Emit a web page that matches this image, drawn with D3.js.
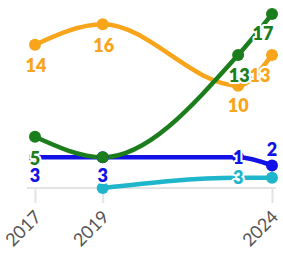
<!DOCTYPE html>
<html>
<head>
<meta charset="utf-8">
<script src="https://cdn.jsdelivr.net/npm/d3@7"></script>
<style>
  html, body { margin: 0; padding: 0; background: #fff; }
  svg { display: block; }
</style>
</head>
<body>
<svg id="chart" width="283" height="255"></svg>
<script>
// ---- data ----
const years = [2017, 2019, 2023, 2024];
const tickYears = [2017, 2019, 2024];
const cyanValues = [null, 0, 1, 1];
const blueValues = [3, 3, 3, 2.2];
const orangeValues = [14, 16, 10, 13];
const greenValues = [5, 3, 13, 17];
const cyanLabels = [null, null, "3", null];
const blueLabels = ["3", "3", "1", "2"];
const orangeLabels = ["14", "16", "10", "13"];
const greenLabels = ["5", null, "13", "17"];

// ---- style ----
const colors = { cyan: "#1fb6cb", blue: "#1212e6", orange: "#f8a51b", green: "#1b7d1b" };
// label offsets (dx, dy of label centre relative to its point)
const labelOffsets = {
  cyan:   [null, null, [0, 0], null],
  blue:   [[0, 18], [0, 18], [0, 0], [0, -16]],
  orange: [[1, 21], [1, 21], [0, 20], [-12, 21]],
  green:  [[0, 22], null, [1, 21], [-9, 20]]
};

const series = [
  { name: "cyan", values: cyanValues, labels: cyanLabels },
  { name: "blue", values: blueValues, labels: blueLabels },
  { name: "orange", values: orangeValues, labels: orangeLabels },
  { name: "green", values: greenValues, labels: greenLabels }
];

const svg = d3.select("#chart");
const x = d3.scaleLinear().domain([2017, 2024]).range([35, 272]);
const y = d3.scaleLinear().domain([0, 17]).range([188, 14]);

// baseline + ticks
svg.append("line").attr("x1", 27).attr("x2", 276).attr("y1", y(0)).attr("y2", y(0))
  .attr("stroke", "#e3e3e3").attr("stroke-width", 2);
const xAxis = svg.append("g").attr("transform", `translate(0,${y(0)})`)
  .call(d3.axisBottom(x).tickValues(tickYears).tickSize(15).tickFormat(d3.format("d")));
xAxis.select(".domain").remove();
xAxis.selectAll(".tick line").attr("stroke", "#e3e3e3").attr("stroke-width", 2);
xAxis.selectAll(".tick text")
  .attr("font-family", "Lato, 'Open Sans', sans-serif")
  .attr("font-size", 18).attr("fill", "#555")
  .attr("text-anchor", "end")
  .attr("dy", 0).attr("y", 0)
  .attr("transform", "translate(7,30) rotate(-45)");

const line = d3.line()
  .defined(d => d.v != null)
  .x(d => x(d.year)).y(d => y(d.v))
  .curve(d3.curveMonotoneX);

const pts = s => years.map((yr, i) => ({ year: yr, v: s.values[i], label: s.labels[i], off: labelOffsets[s.name][i] }));

// lines
series.forEach(s => {
  svg.append("path").datum(pts(s)).attr("d", line)
    .attr("fill", "none").attr("stroke", colors[s.name])
    .attr("stroke-width", 4.5).attr("stroke-linecap", "round");
});
// dots
series.forEach(s => {
  svg.append("g").selectAll("circle").data(pts(s).filter(d => d.v != null)).join("circle")
    .attr("cx", d => x(d.year)).attr("cy", d => y(d.v)).attr("r", 6)
    .attr("fill", colors[s.name]);
});
// labels
series.forEach(s => {
  const g = svg.append("g");
  g.selectAll("text").data(pts(s).filter(d => d.label != null)).join("text")
    .attr("x", d => x(d.year) + d.off[0])
    .attr("y", d => y(d.v) + d.off[1])
    .attr("dy", "0.36em")
    .attr("text-anchor", "middle")
    .attr("font-family", "Lato, 'Open Sans', sans-serif")
    .attr("font-weight", 800).attr("font-size", 18)
    .attr("fill", colors[s.name])
    .attr("stroke", "#fff").attr("stroke-width", 4).attr("stroke-linejoin", "round")
    .attr("paint-order", "stroke")
    .text(d => d.label);
});
</script>
</body>
</html>
